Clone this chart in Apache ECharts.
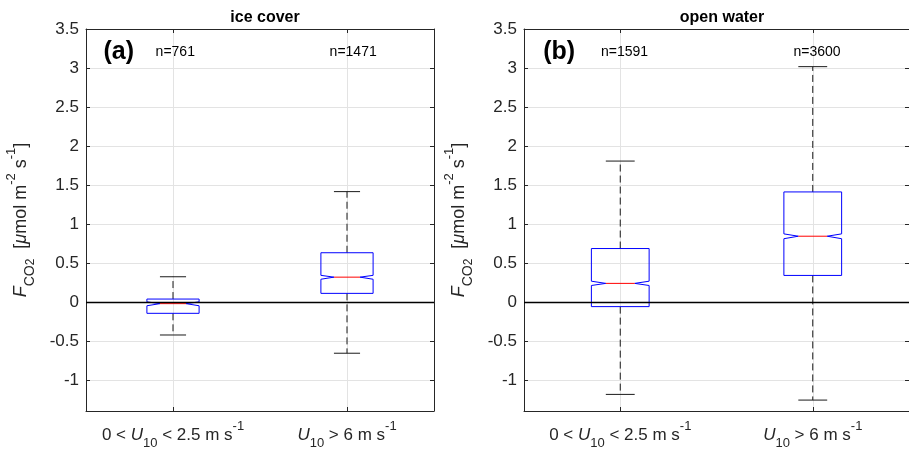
<!DOCTYPE html>
<html>
<head>
<meta charset="utf-8">
<script src="https://cdn.jsdelivr.net/npm/echarts@6/dist/echarts.min.js"></script>
<style>
  html, body { margin: 0; padding: 0; background: #fff; }
  #chart { width: 909px; height: 450px; }
</style>
</head>
<body>
<div id="chart"></div>
<script>
// Hai panel boxplot có notch: FCO2 theo gió yếu / gió mạnh, băng phủ vs nước mở.
const X_POS = [1, 2];
const X_LABELS = [
  "{n|0 < }{i|U}{sub|10}{n| < 2.5 m s}{sup|-1}",
  "{i|U}{sub|10}{n| > 6 m s}{sup|-1}",
];
const Y_TICKS = [-1, -0.5, 0, 0.5, 1, 1.5, 2, 2.5, 3, 3.5];
const PANEL_TITLES = ["ice cover", "open water"];
const PANEL_TAGS = ["(a)", "(b)"];

// ice cover
const ICE_LOWER = [-0.425, -0.659];
const ICE_Q1 = [-0.147, 0.109];
const ICE_NOTCH_LO = [-0.05, 0.29];
const ICE_MEDIAN = [-0.023, 0.317];
const ICE_NOTCH_HI = [0.0, 0.34];
const ICE_Q3 = [0.036, 0.63];
const ICE_UPPER = [0.322, 1.414];
const ICE_N = [761, 1471];

// open water
const OPEN_LOWER = [-1.187, -1.26];
const OPEN_Q1 = [-0.061, 0.339];
const OPEN_NOTCH_LO = [0.21, 0.81];
const OPEN_MEDIAN = [0.237, 0.842];
const OPEN_NOTCH_HI = [0.265, 0.872];
const OPEN_Q3 = [0.684, 1.41];
const OPEN_UPPER = [1.806, 3.017];
const OPEN_N = [1591, 3600];

const FONT = '"Liberation Sans", Helvetica, Arial, sans-serif';
const INK = "#262626";
const GRIDLINE = "#e3e3e3";
const BOX_HALF = 0.15;

const rows = (lo, q1, nlo, med, nhi, q3, hi) =>
  X_POS.map((x, i) => [x, lo[i], q1[i], nlo[i], med[i], nhi[i], q3[i], hi[i]]);

const iceRows = rows(ICE_LOWER, ICE_Q1, ICE_NOTCH_LO, ICE_MEDIAN, ICE_NOTCH_HI, ICE_Q3, ICE_UPPER);
const openRows = rows(OPEN_LOWER, OPEN_Q1, OPEN_NOTCH_LO, OPEN_MEDIAN, OPEN_NOTCH_HI, OPEN_Q3, OPEN_UPPER);

const richX = {
  n: { fontSize: 17, fontFamily: FONT, color: INK, lineHeight: 30, verticalAlign: "middle" },
  i: { fontSize: 17, fontFamily: FONT, color: INK, fontStyle: "italic", lineHeight: 30, verticalAlign: "middle" },
  sub: { fontSize: 13, fontFamily: FONT, color: INK, lineHeight: 12, verticalAlign: "bottom" },
  sup: { fontSize: 13, fontFamily: FONT, color: INK, lineHeight: 16, verticalAlign: "top" },
};

const richY = {
  n: { fontSize: 18, fontFamily: FONT, color: INK, lineHeight: 32, verticalAlign: "middle" },
  i: { fontSize: 18, fontFamily: FONT, color: INK, fontStyle: "italic", lineHeight: 32, verticalAlign: "middle" },
  sub: { fontSize: 14, fontFamily: FONT, color: INK, lineHeight: 12, verticalAlign: "bottom" },
  sub2: { fontSize: 12, fontFamily: FONT, color: INK, lineHeight: 4, verticalAlign: "bottom" },
  sup: { fontSize: 13, fontFamily: FONT, color: INK, lineHeight: 18, verticalAlign: "top" },
};
const Y_NAME = "{i|F}{sub|CO}{sub2|2}{n|  [}{i|μ}{n|mol m}{sup|-2}{n| s}{sup|-1}{n|]}";

const grids = [
  { left: 86, top: 29, width: 348, height: 383 },
  { left: 524, top: 29, width: 386, height: 383 },
];

function xAxes(gi) {
  const base = { gridIndex: gi, type: "value", min: 0.5, max: 2.5 };
  return [
    {
      ...base,
      position: "bottom",
      axisLine: { show: true, onZero: false, lineStyle: { color: INK, width: 1 } },
      axisTick: { show: true, inside: true, length: 4, customValues: X_POS, lineStyle: { color: INK } },
      axisLabel: {
        customValues: X_POS,
        margin: 9,
        formatter: (v) => X_LABELS[X_POS.indexOf(v)],
        rich: richX,
      },
      splitLine: { show: true, lineStyle: { color: GRIDLINE, width: 1 } },
    },
    {
      ...base,
      position: "top",
      axisLine: { show: true, onZero: false, lineStyle: { color: INK, width: 1 } },
      axisTick: { show: true, inside: true, length: 4, customValues: X_POS, lineStyle: { color: INK } },
      axisLabel: { show: false },
      splitLine: { show: false },
    },
  ];
}

function yAxes(gi) {
  const base = { gridIndex: gi, type: "value", min: -1.4, max: 3.5 };
  return [
    {
      ...base,
      position: "left",
      name: Y_NAME,
      nameLocation: "middle",
      nameRotate: 90,
      nameGap: 49,
      nameTextStyle: { rich: richY },
      axisLine: { show: true, onZero: false, lineStyle: { color: INK, width: 1 } },
      axisTick: { show: true, inside: true, length: 4, customValues: Y_TICKS, lineStyle: { color: INK } },
      axisLabel: {
        customValues: Y_TICKS,
        margin: 7,
        color: INK,
        fontSize: 17,
        fontFamily: FONT,
        formatter: (v) => String(v),
      },
      splitLine: { show: true, lineStyle: { color: GRIDLINE, width: 1 } },
    },
    {
      ...base,
      position: "right",
      axisLine: { show: true, onZero: false, lineStyle: { color: INK, width: 1 } },
      axisTick: { show: true, inside: true, length: 4, customValues: Y_TICKS, lineStyle: { color: INK } },
      axisLabel: { show: false },
      splitLine: { show: false },
    },
  ];
}

function renderBox(params, api) {
  const x = api.value(0);
  const pt = (v) => api.coord([x, v]);
  const [cx, yLo] = pt(api.value(1));
  const yQ1 = pt(api.value(2))[1];
  const yNLo = pt(api.value(3))[1];
  const yMed = pt(api.value(4))[1];
  const yNHi = pt(api.value(5))[1];
  const yQ3 = pt(api.value(6))[1];
  const yHi = pt(api.value(7))[1];
  const hw = api.size([BOX_HALF, 0])[0];
  const nw = hw * 0.5;
  const L = cx - hw, R = cx + hw;
  const dashed = { stroke: "#1a1a1a", lineWidth: 1, lineDash: [7, 4] };
  const solid = { stroke: "#1a1a1a", lineWidth: 1 };
  return {
    type: "group",
    children: [
      { type: "line", shape: { x1: cx, y1: yQ3, x2: cx, y2: yHi }, style: dashed },
      { type: "line", shape: { x1: cx, y1: yQ1, x2: cx, y2: yLo }, style: dashed },
      { type: "line", shape: { x1: cx - nw, y1: yHi, x2: cx + nw, y2: yHi }, style: solid },
      { type: "line", shape: { x1: cx - nw, y1: yLo, x2: cx + nw, y2: yLo }, style: solid },
      {
        type: "polygon",
        shape: {
          points: [
            [L, yQ3], [R, yQ3], [R, yNHi], [cx + nw, yMed], [R, yNLo], [R, yQ1],
            [L, yQ1], [L, yNLo], [cx - nw, yMed], [L, yNHi],
          ],
        },
        style: { fill: "none", stroke: "#0000ff", lineWidth: 1 },
      },
      { type: "line", shape: { x1: cx - nw, y1: yMed, x2: cx + nw, y2: yMed }, style: { stroke: "#ff0000", lineWidth: 1 } },
    ],
  };
}

function boxSeries(gi, data) {
  return {
    type: "custom",
    xAxisIndex: gi * 2,
    yAxisIndex: gi * 2,
    data,
    renderItem: renderBox,
    silent: true,
    z: 3,
    markLine: {
      silent: true,
      symbol: "none",
      label: { show: false },
      lineStyle: { color: "#000", width: 1.3, type: "solid" },
      data: [{ yAxis: 0 }],
    },
  };
}

function textSeries(gi, counts) {
  const items = [{ value: [0.6, 3.2], label: PANEL_TAGS[gi], big: true }].concat(
    counts.map((n, i) => ({ value: [X_POS[i] - 0.1, 3.2], label: "n=" + n, big: false }))
  );
  return {
    type: "custom",
    xAxisIndex: gi * 2,
    yAxisIndex: gi * 2,
    data: items.map((d) => d.value),
    silent: true,
    z: 5,
    renderItem: (params, api) => {
      const item = items[params.dataIndex];
      const p = api.coord([api.value(0), api.value(1)]);
      return {
        type: "text",
        x: p[0],
        y: p[1],
        style: {
          text: item.label,
          fill: "#000",
          font: item.big ? "bold 25px " + FONT : "14px " + FONT,
          textAlign: "left",
          textVerticalAlign: "middle",
        },
      };
    },
  };
}

const chart = echarts.init(document.getElementById("chart"), null, { renderer: "canvas" });
chart.setOption({
  animation: false,
  backgroundColor: "#fff",
  title: PANEL_TITLES.map((t, i) => ({
    text: t,
    left: grids[i].left + grids[i].width / 2,
    top: 5,
    textAlign: "center",
    textStyle: { fontSize: 16, fontWeight: "bold", fontFamily: FONT, color: "#000" },
  })),
  grid: grids,
  xAxis: [...xAxes(0), ...xAxes(1)],
  yAxis: [...yAxes(0), ...yAxes(1)],
  series: [
    boxSeries(0, iceRows),
    boxSeries(1, openRows),
    textSeries(0, ICE_N),
    textSeries(1, OPEN_N),
  ],
});
</script>
</body>
</html>
